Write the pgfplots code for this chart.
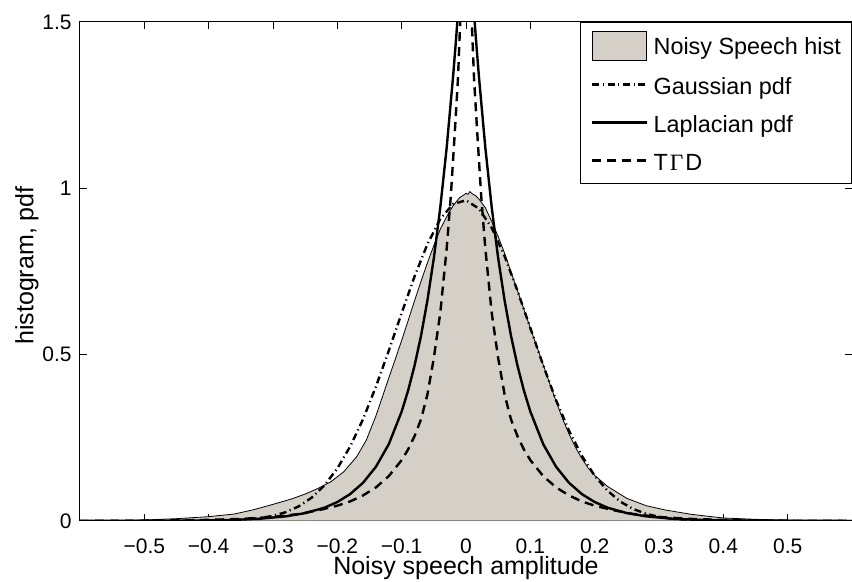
\documentclass[border=0pt]{standalone}
\usepackage{fontspec}
\setmainfont{Liberation Sans}
\newfontfamily\seriffont{Liberation Serif}
\usepackage{pgfplots}
\pgfplotsset{compat=1.18}
\definecolor{histgray}{RGB}{212,208,200}

\begin{document}
\begin{tikzpicture}
\begin{axis}[
  name=ax,
  scale only axis,
  width=386pt, height=249.5pt,
  xmin=-0.6, xmax=0.6, ymin=0, ymax=1.5,
  xtick={-0.5,-0.4,-0.3,-0.2,-0.1,0,0.1,0.2,0.3,0.4,0.5},
  xticklabels={−0.5,−0.4,−0.3,−0.2,−0.1,0,0.1,0.2,0.3,0.4,0.5},
  ytick={0,0.5,1,1.5},
  yticklabels={0,0.5,1,1.5},
  tick align=inside,
  major tick length=3.5pt,
  tick style={black, line width=0.5pt},
  axis line style={line width=0.5pt},
  tick label style={font=\fontsize{10.5}{12}\selectfont},
  xticklabel style={anchor=north, inner sep=0pt, yshift=-8.5pt},
  yticklabel style={anchor=east, inner sep=0pt, xshift=-4pt},
  xlabel={Noisy speech amplitude},
  ylabel={histogram, pdf},
  label style={font=\fontsize{12.5}{15}\selectfont},
  xlabel style={at={(axis description cs:0.5,0)}, anchor=base, yshift=-27pt},
  ylabel style={at={(axis description cs:-0.0687,0.512)}, anchor=center},
  legend cell align=left,
  legend style={at={(1,1)}, anchor=north east, draw=black, line width=0.5pt, fill=white,
    inner xsep=5.3pt, inner ysep=4.5pt, row sep=6.5pt,
    font=\fontsize{11.7}{14}\selectfont,
    nodes={inner sep=0pt, text height=10.5pt, text depth=2pt},
    /tikz/every odd column/.append style={column sep=2.8pt}},
  legend image code/.code={\draw[#1] (0pt,1pt) -- (27.3pt,1pt);},
]
% histogram
\addplot[draw=black, line width=0.4pt, fill=histgray,
  legend image code/.code={\draw[draw=black, line width=0.4pt, fill=histgray] (0pt,-7.4pt) rectangle (27.3pt,6.9pt);}]
coordinates {
(-0.60,0.000) (-0.55,0.001) (-0.50,0.003) (-0.45,0.007) (-0.40,0.013)
(-0.36,0.021) (-0.33,0.034) (-0.30,0.050) (-0.27,0.067) (-0.25,0.081)
(-0.23,0.098) (-0.21,0.118) (-0.19,0.148) (-0.17,0.193) (-0.155,0.243)
(-0.14,0.316) (-0.13,0.373) (-0.12,0.430) (-0.11,0.486) (-0.10,0.543)
(-0.09,0.602) (-0.08,0.662) (-0.07,0.720) (-0.06,0.776) (-0.05,0.828)
(-0.04,0.877) (-0.03,0.915) (-0.02,0.948) (-0.015,0.960) (-0.01,0.972)
(-0.005,0.978) (0.0,0.985) (0.003,0.982) (0.006,0.990) (0.01,0.983)
(0.015,0.978) (0.02,0.968) (0.03,0.942) (0.04,0.900) (0.05,0.855)
(0.06,0.805) (0.07,0.748) (0.08,0.693) (0.09,0.636) (0.10,0.580)
(0.11,0.525) (0.12,0.470) (0.13,0.414) (0.14,0.360) (0.15,0.308)
(0.16,0.262) (0.17,0.222) (0.18,0.188) (0.19,0.159) (0.20,0.137)
(0.22,0.104) (0.25,0.068) (0.28,0.046) (0.31,0.033) (0.35,0.020)
(0.40,0.009) (0.45,0.005) (0.50,0.002) (0.55,0.001) (0.60,0.000)
} \closedcycle;
\addlegendentry{Noisy Speech hist}
% Gaussian pdf
\addplot[black, line width=1.2pt, dash pattern=on 3.5pt off 1.8pt on 0.6pt off 1.8pt]
coordinates {
(-0.60,0) (-0.50,0.0001) (-0.40,0.0006) (-0.36,0.0025) (-0.32,0.0087) (-0.30,0.0155)
(-0.28,0.0266) (-0.26,0.044) (-0.24,0.070) (-0.22,0.107) (-0.20,0.158)
(-0.18,0.224) (-0.16,0.306) (-0.14,0.404) (-0.12,0.512) (-0.10,0.625)
(-0.08,0.735) (-0.06,0.832) (-0.04,0.908) (-0.02,0.953) (0.00,0.964)
(0.02,0.939) (0.04,0.881) (0.06,0.796) (0.08,0.692) (0.10,0.580)
(0.12,0.468) (0.14,0.363) (0.16,0.272) (0.18,0.196) (0.20,0.136)
(0.22,0.091) (0.24,0.058) (0.26,0.036) (0.28,0.0216) (0.30,0.0124)
(0.32,0.0069) (0.36,0.0019) (0.40,0.0005) (0.50,0.0001) (0.60,0)
};
\addlegendentry{Gaussian pdf}
% Laplacian pdf
\addplot[black, line width=1.2pt]
coordinates {
(-0.60,0.0001) (-0.50,0.0003) (-0.40,0.0017) (-0.36,0.0034) (-0.32,0.0069)
(-0.28,0.014) (-0.25,0.0237) (-0.22,0.040) (-0.20,0.057) (-0.18,0.081)
(-0.16,0.115) (-0.14,0.163) (-0.12,0.231) (-0.10,0.329) (-0.09,0.392)
(-0.08,0.467) (-0.07,0.556) (-0.06,0.663) (-0.05,0.790) (-0.04,0.942)
(-0.03,1.123) (-0.02,1.338) (-0.015,1.46) (-0.01,1.594) (-0.005,1.740)
(0,1.9)
(0.005,1.740) (0.01,1.594) (0.015,1.46) (0.02,1.338) (0.03,1.123)
(0.04,0.942) (0.05,0.790) (0.06,0.663) (0.07,0.556) (0.08,0.467)
(0.09,0.392) (0.10,0.329) (0.12,0.231) (0.14,0.163) (0.16,0.115)
(0.18,0.081) (0.20,0.057) (0.22,0.040) (0.25,0.0237) (0.28,0.014)
(0.32,0.0069) (0.36,0.0034) (0.40,0.0017) (0.50,0.0003) (0.60,0.0001)
};
\addlegendentry{Laplacian pdf}
% TGD
\addplot[black, line width=1.2pt, dash pattern=on 4.5pt off 3pt]
coordinates {
(-0.60,0.0002) (-0.50,0.0009) (-0.40,0.0033) (-0.35,0.0063) (-0.30,0.012)
(-0.26,0.021) (-0.23,0.032) (-0.20,0.046) (-0.18,0.059) (-0.16,0.077)
(-0.14,0.101) (-0.12,0.135) (-0.10,0.183) (-0.09,0.215) (-0.08,0.255)
(-0.07,0.305) (-0.06,0.38) (-0.05,0.49) (-0.04,0.625) (-0.03,0.82)
(-0.0235,0.98) (-0.0175,1.166) (-0.0125,1.33) (-0.009,1.5) (-0.006,1.72)
(-0.003,2.0) (0,2.5)
(0.003,2.0) (0.006,1.72) (0.009,1.5) (0.0125,1.33) (0.0175,1.166)
(0.0235,0.98) (0.03,0.82) (0.04,0.625) (0.05,0.49) (0.06,0.38)
(0.07,0.305) (0.08,0.255) (0.09,0.215) (0.10,0.183) (0.12,0.135)
(0.14,0.101) (0.16,0.077) (0.18,0.059) (0.20,0.046) (0.23,0.032)
(0.26,0.021) (0.30,0.012) (0.35,0.0063) (0.40,0.0033) (0.50,0.0009)
(0.60,0.0002)
};
\addlegendentry{T\kern1pt{\seriffont Γ}\kern1pt D}
\end{axis}
\pgfresetboundingbox
\path ([shift={(-40pt,-30.5pt)}]ax.south west) rectangle ([shift={(0pt,11pt)}]ax.north east);
\end{tikzpicture}
\end{document}
